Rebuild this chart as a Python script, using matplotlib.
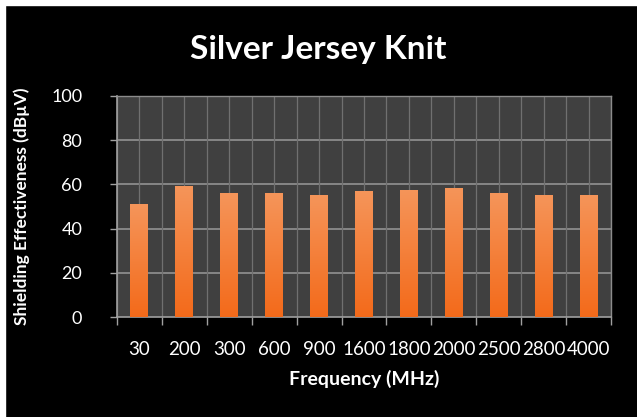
import numpy as np
import matplotlib
matplotlib.use("Agg")
import matplotlib.pyplot as plt
from matplotlib.colors import LinearSegmentedColormap

# datos
frecuencias = ["30", "200", "300", "600", "900", "1600", "1800", "2000", "2500", "2800", "4000"]
efectividad = [51.0, 59.1, 56.1, 56.1, 55.4, 56.9, 57.6, 58.4, 56.1, 55.4, 55.4]

titulo = "Silver Jersey Knit"
etiqueta_x = "Frequency (MHz)"
etiqueta_y = "Shielding Effectiveness (dBµV)"

plt.rcParams["font.family"] = ["Lato", "DejaVu Sans"]

fig = plt.figure(figsize=(6.37, 4.17), dpi=100, facecolor="black")
ax = fig.add_axes([117 / 637, 1 - 317 / 417, (611 - 117) / 637, (317 - 96) / 417])
ax.set_facecolor("#404040")

x = np.arange(len(frecuencias))
barras = ax.bar(x, efectividad, width=0.4, color="#f47a30", zorder=3)

# degradado naranja dentro de cada barra
cmap = LinearSegmentedColormap.from_list("naranja", ["#f36a1a", "#f5955a"])
grad = np.linspace(0, 1, 256).reshape(-1, 1)
for b in barras:
    x0, y0 = b.get_x(), b.get_y()
    w, h = b.get_width(), b.get_height()
    im = ax.imshow(grad, cmap=cmap, aspect="auto", origin="lower",
                   extent=[x0, x0 + w, y0, y0 + h], zorder=4)
    im.set_clip_path(b)

ax.set_xlim(-0.5, len(frecuencias) - 0.5)
ax.set_ylim(0, 100)
ax.set_yticks(np.arange(0, 101, 20))
ax.set_xticks(x)
ax.set_xticklabels(frecuencias)

# rejilla
for yv in np.arange(20, 101, 20):
    ax.axhline(yv, color="#8c8c8c", lw=1.3, zorder=1)
for xv in np.arange(-0.5, len(frecuencias), 0.5):
    ax.axvline(xv, color="#707070", lw=0.9, zorder=1)

ax.set_xticks(np.arange(-0.5, len(frecuencias), 1.0), minor=True)
ax.tick_params(axis="x", which="major", length=0, colors="white", labelsize=13.5, pad=17)
ax.tick_params(axis="x", which="minor", length=6, color="#a0a0a0", width=1, direction="out")
ax.tick_params(axis="y", which="major", length=5, color="#a0a0a0", width=1,
               colors="white", labelsize=13, pad=20)
for lbl in ax.get_yticklabels():
    lbl.set_color("white")
ax.yaxis.set_tick_params(color="#a0a0a0")

for lado in ["left", "bottom"]:
    ax.spines[lado].set_color("#a0a0a0")
    ax.spines[lado].set_linewidth(1.2)
for lado in ["top", "right"]:
    ax.spines[lado].set_color("#8c8c8c")
    ax.spines[lado].set_linewidth(1.0)

ax.set_xlabel(etiqueta_x, color="white", fontsize=14, fontweight="bold", labelpad=9)
ax.set_ylabel(etiqueta_y, color="white", fontsize=12.5, fontweight="bold", labelpad=15)
fig.text(318 / 637, 1 - 50 / 417, titulo, color="white", fontsize=24,
         fontweight="bold", ha="center", va="center")

# bordes blancos del recorte
fig.patches.append(plt.Rectangle((0, 1 - 5 / 417), 1, 5 / 417, transform=fig.transFigure,
                                 color="white", zorder=10))
fig.patches.append(plt.Rectangle((0, 0), 5 / 637, 1, transform=fig.transFigure,
                                 color="white", zorder=10))

fig.savefig("out.png", dpi=100, facecolor="black")
